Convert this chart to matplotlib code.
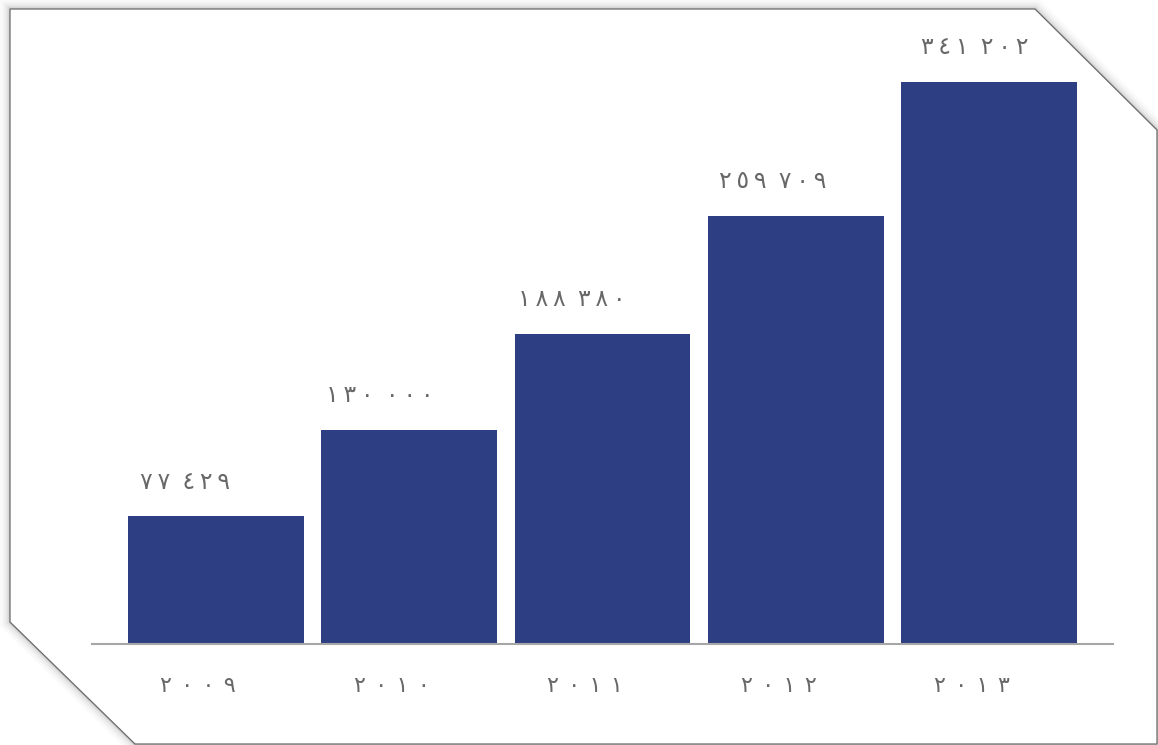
import matplotlib
matplotlib.use("Agg")
import matplotlib.pyplot as plt
from matplotlib.patches import Polygon

years = [2009, 2010, 2011, 2012, 2013]
values = [77429, 130000, 188380, 259709, 341202]

AR = str.maketrans("0123456789", "٠١٢٣٤٥٦٧٨٩")
THIN = "\u2009"
HAIR = "\u200a"

def ar_num(v):
    groups = f"{v:,}".split(",")
    return (" " + THIN).join(THIN.join(g.translate(AR)) for g in groups)

def ar_year(y):
    return (" " + HAIR).join(str(y).translate(AR))

W, H = 1158, 745
fig = plt.figure(figsize=(W / 100, H / 100), dpi=100)
fig.patch.set_facecolor("white")

# frame with cut corners (figure pixel coords -> fractions)
pts = [(10, 9), (1035, 9), (1157, 130), (1157, 744), (135, 744), (10, 622)]
frac = [(x / W, 1 - y / H) for x, y in pts]
for lw, a in [(14, 0.03), (10, 0.04), (7, 0.05), (4, 0.07), (2, 0.12)]:
    fig.add_artist(Polygon(frac, closed=True, transform=fig.transFigure,
                           facecolor="none", edgecolor="#555555", lw=lw, alpha=a,
                           joinstyle="miter", zorder=-2))
fig.add_artist(Polygon(frac, closed=True, transform=fig.transFigure,
                       facecolor="white", edgecolor="#6a6a6a", lw=0.9, zorder=-1))

ax = fig.add_axes([92 / W, 101 / H, 1021 / W, 593 / H])
ax.set_zorder(2)
ax.set_facecolor("none")
x = list(range(len(years)))
ax.bar(x, values, width=0.91, color="#2D3E82", zorder=2)
ax.set_xlim(-0.64, 4.64)
ax.set_ylim(0, 360000)
for s in ["top", "right", "left"]:
    ax.spines[s].set_visible(False)
ax.spines["bottom"].set_color("#A6A6A6")
ax.spines["bottom"].set_linewidth(1.5)
ax.set_yticks([])
ax.set_xticks([])

txt = "#686868"
offs = [-0.16, -0.15, -0.16, -0.12, -0.075]
for i, v in enumerate(values):
    ax.annotate(ar_num(v), (x[i] + offs[i], v), xytext=(0, 25), textcoords="offset points",
                ha="center", va="center", fontsize=17, color=txt,
                family=["DejaVu Sans"])
for i, yv in enumerate(years):
    ax.annotate(ar_year(yv), (x[i] - 0.09, 0), xytext=(0, -30), textcoords="offset points",
                ha="center", va="center", fontsize=16, color=txt,
                family=["DejaVu Sans"], annotation_clip=False)

fig.savefig("out.png", dpi=100, facecolor="white")
